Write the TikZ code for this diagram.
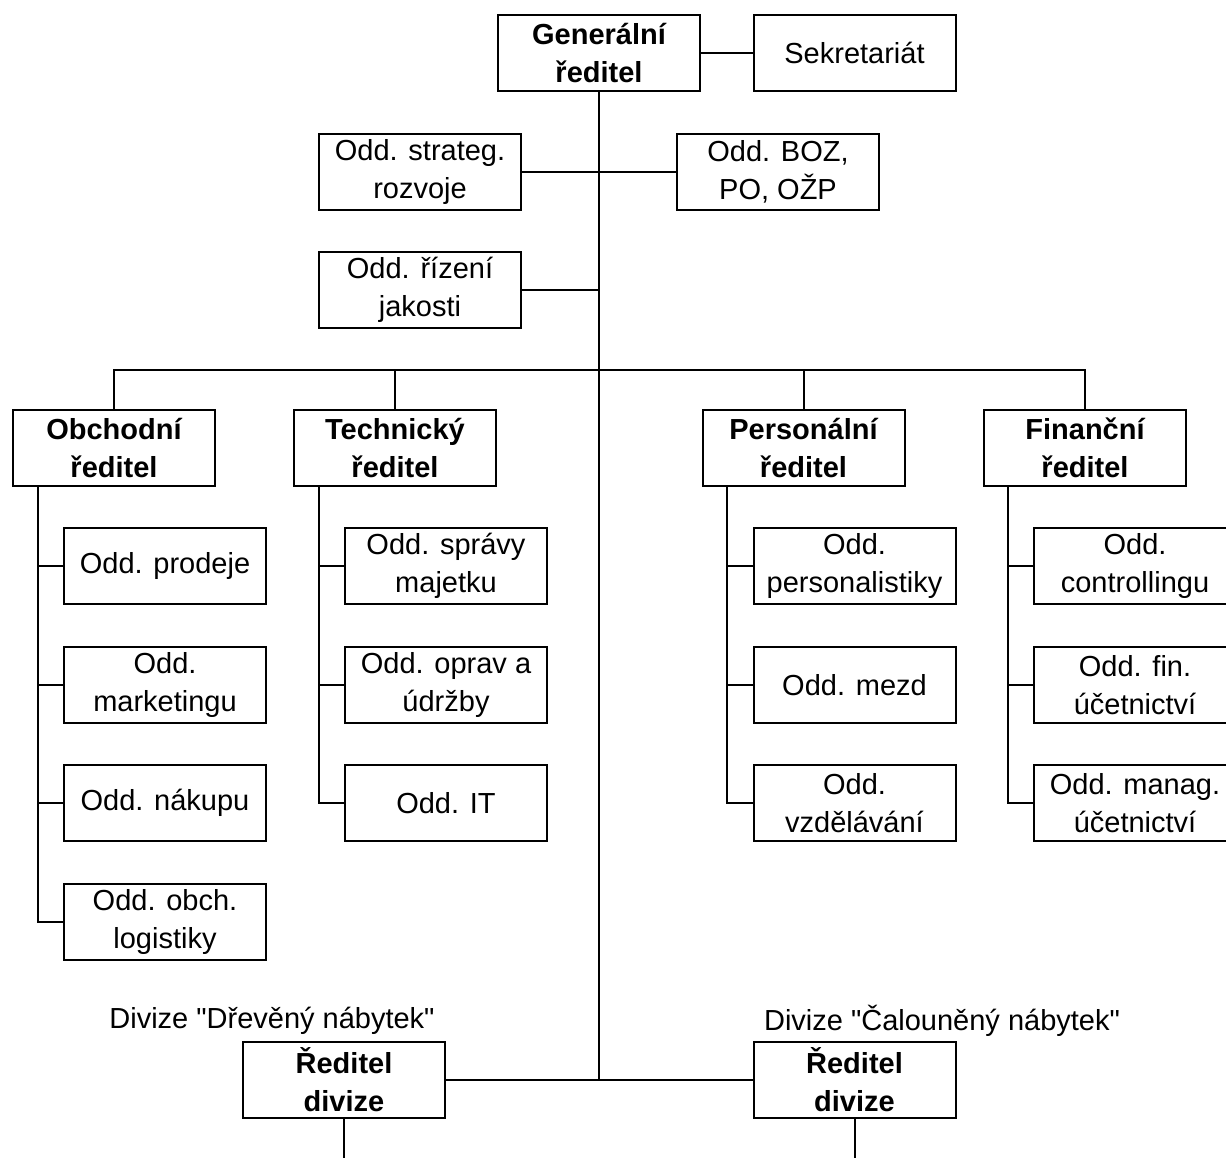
\documentclass[tikz,border=0pt]{standalone}
\usepackage{fontspec}
\setmainfont{Liberation Sans}[Ligatures=TeXOff]

\begin{document}
\begin{tikzpicture}[x=0.5pt,y=-0.5pt,
	box/.style={draw,line width=1pt,minimum width=101pt,minimum height=38pt,inner sep=0pt,align=center,font=\fontsize{14.5}{19}\selectfont},
	boss/.style={box,font=\fontsize{14.5}{19}\selectfont\bfseries},
	link/.style={line width=1pt}]
	\useasboundingbox (0,0) rectangle (1226,1158);
	\node[boss] (gr) at (599,53) {Generální\\ředitel};
	\node[box] (sekr) at (854.5,53) {Sekretariát};
	\node[box] (strat) at (420,171.5) {Odd. strateg.\\rozvoje};
	\node[box] (boz) at (778,171.5) {Odd. BOZ,\\PO, OŽP};
	\node[box] (jak) at (420,290) {Odd. řízení\\jakosti};
	\node[boss] (obch) at (114,447.5) {Obchodní\\ředitel};
	\node[boss] (tech) at (395,447.5) {Technický\\ředitel};
	\node[boss] (pers) at (803.5,447.5) {Personální\\ředitel};
	\node[boss] (fin) at (1085,447.5) {Finanční\\ředitel};
	\node[box] (prod) at (165,566) {Odd. prodeje};
	\node[box] (mark) at (165,685) {Odd.\\marketingu};
	\node[box] (nak) at (165,803) {Odd. nákupu};
	\node[box] (log) at (165,922) {Odd. obch.\\logistiky};
	\node[box] (sprav) at (446,566) {Odd. správy\\majetku};
	\node[box] (oprav) at (446,685) {Odd. oprav a\\údržby};
	\node[box] (it) at (446,803) {Odd. IT};
	\node[box] (perso) at (854.5,566) {Odd.\\personalistiky};
	\node[box] (mezd) at (854.5,685) {Odd. mezd};
	\node[box] (vzdel) at (854.5,803) {Odd.\\vzdělávání};
	\node[box] (contr) at (1135,566) {Odd.\\controllingu};
	\node[box] (finu) at (1135,685) {Odd. fin.\\účetnictví};
	\node[box] (manu) at (1135,803) {Odd. manag.\\účetnictví};
	\node[boss] (rdA) at (344,1080) {Ředitel\\divize};
	\node[boss] (rdB) at (854.5,1080) {Ředitel\\divize};
	\node[font=\fontsize{14.5}{19}\selectfont] (divA) at (272,1021) {Divize "Dřevěný nábytek"};
	\node[font=\fontsize{14.5}{19}\selectfont] (divB) at (942,1021) {Divize "Čalouněný nábytek"};
	\coordinate (bus) at (599,370);
	\coordinate (obchs) at (38,487);
	\coordinate (techs) at (319,487);
	\coordinate (perss) at (727,487);
	\coordinate (fins) at (1008,487);
	\coordinate (endA) at (344,1158);
	\coordinate (endB) at (854.5,1158);
	\draw[link] (gr) -- (sekr);
	\draw[link] (gr.south) -- (gr.south |- rdA.east);
	\draw[link] (strat) -- (boz);
	\draw[link] (jak.east) -- (jak.east -| gr.south);
	\draw[link] (obch.north) |- (bus) -| (fin.north);
	\draw[link] (tech.north) -- (tech.north |- bus);
	\draw[link] (pers.north) -- (pers.north |- bus);
	\draw[link] (obchs) |- (log.west);
	\draw[link] (prod.west) -- (prod.west -| obchs);
	\draw[link] (mark.west) -- (mark.west -| obchs);
	\draw[link] (nak.west) -- (nak.west -| obchs);
	\draw[link] (techs) |- (it.west);
	\draw[link] (sprav.west) -- (sprav.west -| techs);
	\draw[link] (oprav.west) -- (oprav.west -| techs);
	\draw[link] (perss) |- (vzdel.west);
	\draw[link] (perso.west) -- (perso.west -| perss);
	\draw[link] (mezd.west) -- (mezd.west -| perss);
	\draw[link] (fins) |- (manu.west);
	\draw[link] (contr.west) -- (contr.west -| fins);
	\draw[link] (finu.west) -- (finu.west -| fins);
	\draw[link] (rdA) -- (rdB);
	\draw[link] (rdA) -- (endA);
	\draw[link] (rdB) -- (endB);
\end{tikzpicture}
\end{document}
